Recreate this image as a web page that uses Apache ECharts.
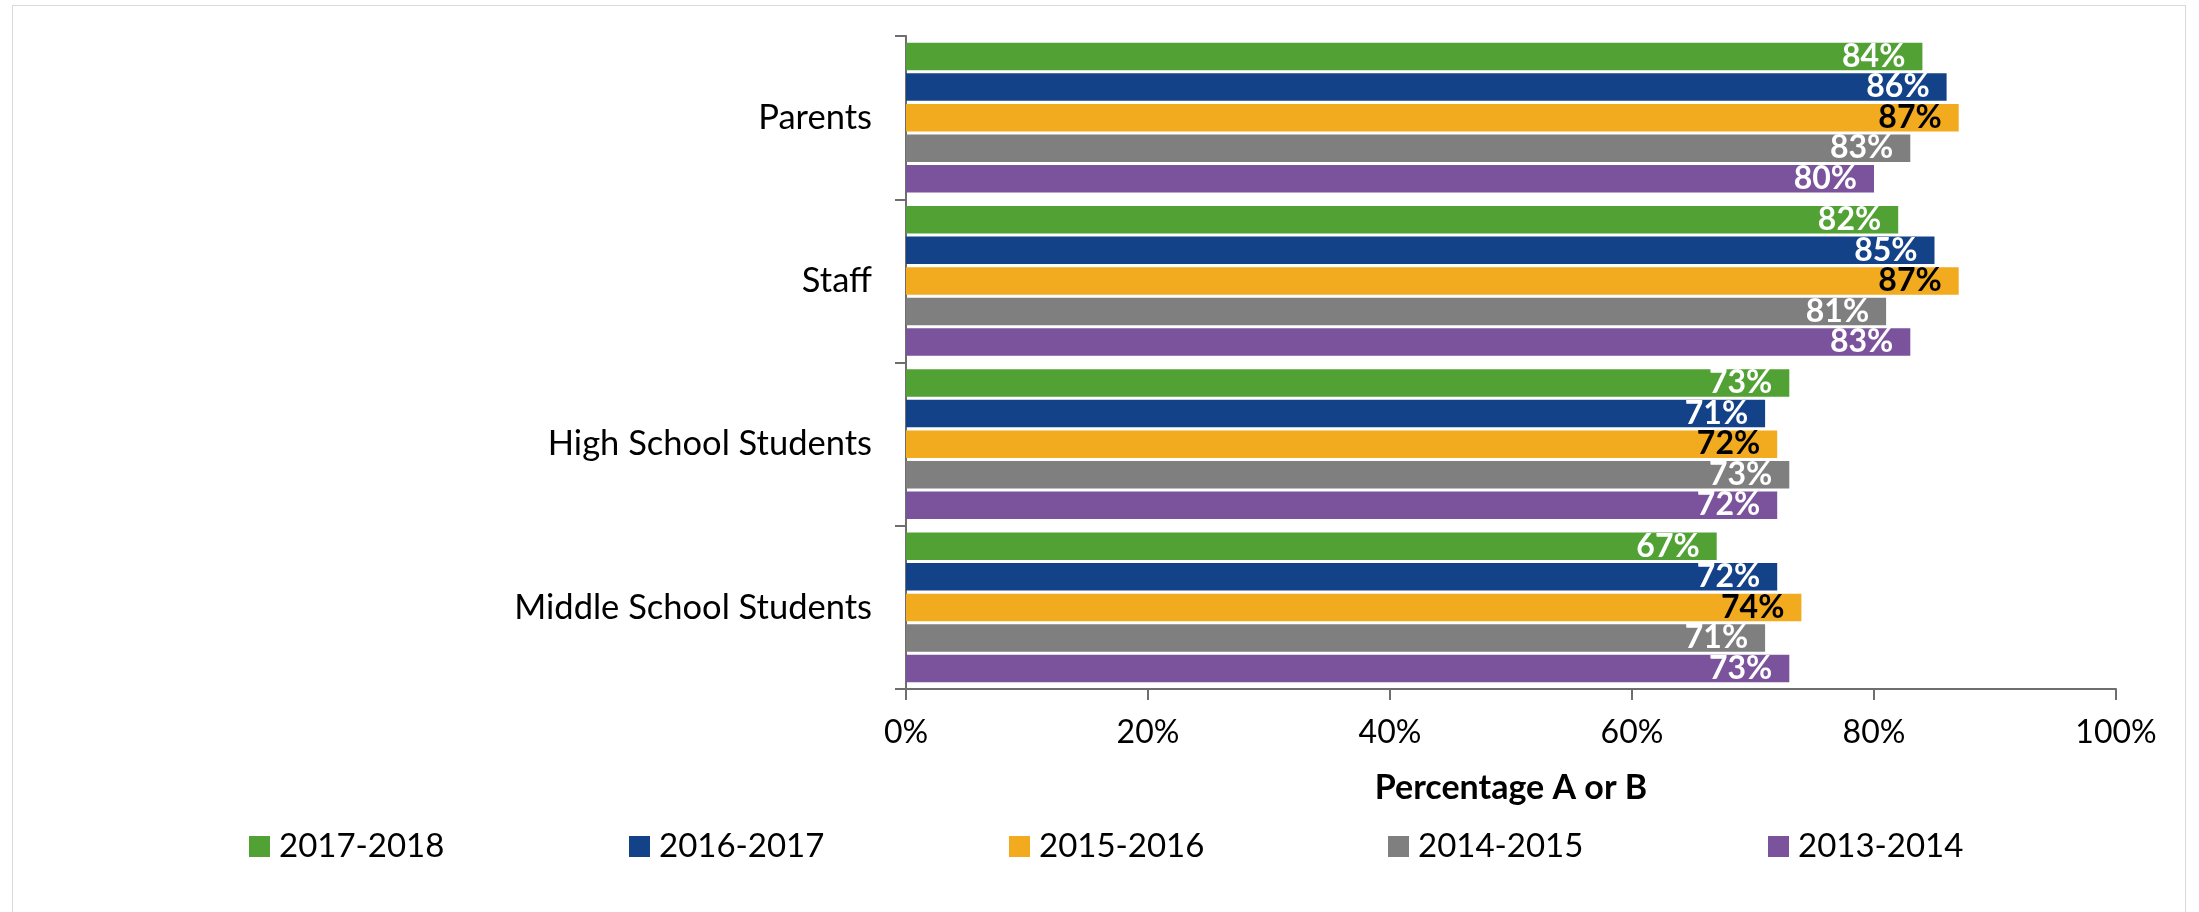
<!DOCTYPE html>
<html>
<head>
<meta charset="utf-8">
<script src="https://cdn.jsdelivr.net/npm/echarts@6/dist/echarts.min.js"></script>
<style>
html,body{margin:0;padding:0;background:#fff;}
#frame{position:absolute;left:12px;top:5px;width:2174px;height:1000px;border:1.5px solid #d9d9d9;box-sizing:border-box;}
#chart{position:absolute;left:0;top:0;width:2199px;height:912px;}
</style>
</head>
<body>
<div id="frame"></div>
<div id="chart"></div>
<script>
const categories = ['Parents', 'Staff', 'High School Students', 'Middle School Students'];
const seriesNames = ['2017-2018', '2016-2017', '2015-2016', '2014-2015', '2013-2014'];
const v2017_2018 = [84, 82, 73, 67];
const v2016_2017 = [86, 85, 71, 72];
const v2015_2016 = [87, 87, 72, 74];
const v2014_2015 = [83, 81, 73, 71];
const v2013_2014 = [80, 83, 72, 73];
const xTicks = [0, 20, 40, 60, 80, 100];

const seriesValues = [v2017_2018, v2016_2017, v2015_2016, v2014_2015, v2013_2014];
const colors = ['#52A135', '#134288', '#F2AA1E', '#7F7F7F', '#7B539C'];
const labelColors = ['#ffffff', '#ffffff', '#000000', '#ffffff', '#ffffff'];
const legendLefts = [249, 629, 1009, 1388, 1768];
const FONT = 'Lato, "Open Sans", sans-serif';

const chart = echarts.init(document.getElementById('chart'), null, {renderer: 'canvas'});
chart.setOption({
  animation: false,
  backgroundColor: 'transparent',
  grid: {left: 906, top: 36, width: 1210, height: 653, containLabel: false},
  legend: seriesNames.map((name, i) => ({
    data: [name],
    left: legendLefts[i],
    top: 830,
    padding: 0,
    itemWidth: 21,
    itemHeight: 21,
    itemGap: 0,
    icon: 'rect',
    selectedMode: false,
    textStyle: {fontFamily: FONT, fontSize: 33, color: '#000', padding: [0, 0, 0, 4]}
  })),
  xAxis: {
    type: 'value',
    min: xTicks[0],
    max: xTicks[xTicks.length - 1],
    interval: 20,
    name: 'Percentage A or B',
    nameLocation: 'middle',
    nameGap: 82,
    nameTextStyle: {fontFamily: FONT, fontSize: 34, fontWeight: 'bold', color: '#000'},
    axisLine: {show: true, lineStyle: {color: '#6e6e6e', width: 2}},
    axisTick: {show: true, length: 11, lineStyle: {color: '#6e6e6e', width: 2}},
    splitLine: {show: false},
    axisLabel: {fontFamily: FONT, fontSize: 32, color: '#000', margin: 28, formatter: v => v + '%'}
  },
  yAxis: {
    type: 'category',
    data: categories,
    inverse: true,
    axisLine: {show: true, lineStyle: {color: '#6e6e6e', width: 2}},
    axisTick: {show: true, length: 11, lineStyle: {color: '#6e6e6e', width: 2}},
    axisLabel: {fontFamily: FONT, fontSize: 34.5, color: '#000', margin: 34}
  },
  series: seriesNames.map((name, i) => ({
    name: name,
    type: 'bar',
    data: seriesValues[i],
    barWidth: 27.5,
    barGap: '11%',
    itemStyle: {color: colors[i]},
    label: {
      show: true,
      position: 'insideRight',
      distance: 17,
      fontFamily: FONT,
      fontSize: 32,
      fontWeight: 'bold',
      color: labelColors[i],
      formatter: p => p.value + '%'
    }
  }))
});
</script>
</body>
</html>
